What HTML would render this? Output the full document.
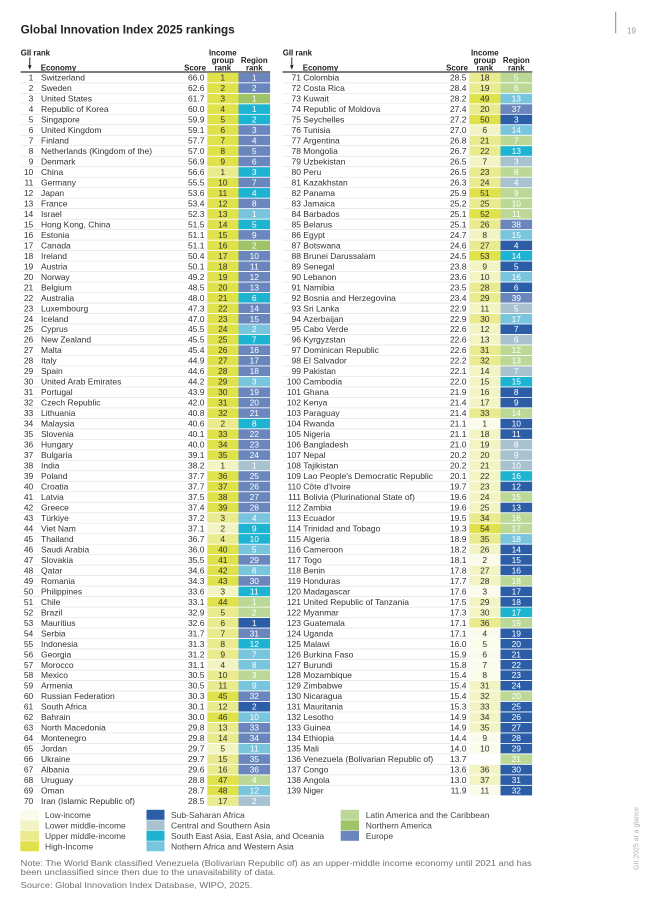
<!DOCTYPE html>
<html><head><meta charset="utf-8"><style>
html,body{margin:0;padding:0;background:#fff}
svg{display:block}
svg text{font-family:"Liberation Sans",Arial,sans-serif;font-size:8.5px;fill:#333}
.r{text-anchor:end}.c{text-anchor:middle}.w{text-anchor:middle;fill:#fff!important}
.b{font-weight:bold;fill:#222!important;font-size:7.9px!important}
.H{fill:#dfe24b}.U{fill:#e9eb8e}.L{fill:#f3f4c4}.W{fill:#fbfbeb}
.F{fill:#2b5ea7}.C{fill:#a9c2cf}.S{fill:#1fb3d2}.M{fill:#79c5dd}.G{fill:#bcd896}.A{fill:#9fc368}.E{fill:#6a86bd}
.lg{fill:#444!important}.nt{fill:#707070!important}
</style></head><body>
<svg width="647" height="905" viewBox="0 0 647 905" xmlns="http://www.w3.org/2000/svg">
<defs>
<rect id="i" x="207.3" y="-4.8" width="31.2" height="9.6"/>
<rect id="g" x="238.5" y="-4.8" width="31.6" height="9.6"/>
<g id="hd">
<text class="b" x="20.7" y="55.5">GII rank</text>
<line x1="29.8" y1="57.5" x2="29.8" y2="66" stroke="#222" stroke-width="1"/>
<polygon points="28,65.3 31.6,65.3 29.8,69.6" fill="#222"/>
<text class="b" x="40.7" y="70.5">Economy</text>
<text class="b r" x="206" y="70.5">Score</text>
<text class="b c" x="222.8" y="55.5">Income</text>
<text class="b c" x="222.8" y="63">group</text>
<text class="b c" x="222.8" y="70.5">rank</text>
<text class="b c" x="254.3" y="63">Region</text>
<text class="b c" x="254.3" y="70.5">rank</text>
<rect x="20.7" y="71.1" width="249.6" height="1.8" fill="#707070"/>
<path d="M20.7 82.84h186.6m-186.6 10.485h186.6m-186.6 10.485h186.6m-186.6 10.485h186.6m-186.6 10.485h186.6m-186.6 10.485h186.6m-186.6 10.485h186.6m-186.6 10.485h186.6m-186.6 10.485h186.6m-186.6 10.485h186.6m-186.6 10.485h186.6m-186.6 10.485h186.6m-186.6 10.485h186.6m-186.6 10.485h186.6m-186.6 10.485h186.6m-186.6 10.485h186.6m-186.6 10.485h186.6m-186.6 10.485h186.6m-186.6 10.485h186.6m-186.6 10.485h186.6m-186.6 10.485h186.6m-186.6 10.485h186.6m-186.6 10.485h186.6m-186.6 10.485h186.6m-186.6 10.485h186.6m-186.6 10.485h186.6m-186.6 10.485h186.6m-186.6 10.485h186.6m-186.6 10.485h186.6m-186.6 10.485h186.6m-186.6 10.485h186.6m-186.6 10.485h186.6m-186.6 10.485h186.6m-186.6 10.485h186.6m-186.6 10.485h186.6m-186.6 10.485h186.6m-186.6 10.485h186.6m-186.6 10.485h186.6m-186.6 10.485h186.6m-186.6 10.485h186.6m-186.6 10.485h186.6m-186.6 10.485h186.6m-186.6 10.485h186.6m-186.6 10.485h186.6m-186.6 10.485h186.6m-186.6 10.485h186.6m-186.6 10.485h186.6m-186.6 10.485h186.6m-186.6 10.485h186.6m-186.6 10.485h186.6m-186.6 10.485h186.6m-186.6 10.485h186.6m-186.6 10.485h186.6m-186.6 10.485h186.6m-186.6 10.485h186.6m-186.6 10.485h186.6m-186.6 10.485h186.6m-186.6 10.485h186.6m-186.6 10.485h186.6m-186.6 10.485h186.6m-186.6 10.485h186.6m-186.6 10.485h186.6m-186.6 10.485h186.6m-186.6 10.485h186.6m-186.6 10.485h186.6m-186.6 10.485h186.6m-186.6 10.485h186.6m-186.6 10.485h186.6" stroke="#e4e4e4" stroke-width="0.7" fill="none"/>
</g>
</defs>
<rect width="647" height="905" fill="#fff"/>
<text x="20.7" y="33.3" style="font-weight:bold;font-size:11.7px;fill:#222" textLength="214" lengthAdjust="spacingAndGlyphs">Global Innovation Index 2025 rankings</text>
<line x1="615.7" y1="11.7" x2="615.7" y2="33.3" stroke="#888" stroke-width="1"/>
<text x="627" y="33.5" style="font-size:8px;fill:#9a9a9a">19</text>
<text transform="translate(638.5,870) rotate(-90)" style="font-size:7.5px;fill:#b0b0b0" textLength="63" lengthAdjust="spacingAndGlyphs">GII 2025 at a glance</text>

<!-- LEFT TABLE -->
<g>
<use href="#hd"/>
<g transform="translate(0,77.6)"><use href="#i" class="H"/><use href="#g" class="E"/><text class="r" x="33.3" y="3">1</text><text x="41" y="3">Switzerland</text><text class="r" x="204.5" y="3">66.0</text><text class="c" x="222.8" y="3">1</text><text class="w" x="254.3" y="3">1</text></g>
<g transform="translate(0,88.1)"><use href="#i" class="H"/><use href="#g" class="E"/><text class="r" x="33.3" y="3">2</text><text x="41" y="3">Sweden</text><text class="r" x="204.5" y="3">62.6</text><text class="c" x="222.8" y="3">2</text><text class="w" x="254.3" y="3">2</text></g>
<g transform="translate(0,98.6)"><use href="#i" class="H"/><use href="#g" class="A"/><text class="r" x="33.3" y="3">3</text><text x="41" y="3">United States</text><text class="r" x="204.5" y="3">61.7</text><text class="c" x="222.8" y="3">3</text><text class="w" x="254.3" y="3">1</text></g>
<g transform="translate(0,109.1)"><use href="#i" class="H"/><use href="#g" class="S"/><text class="r" x="33.3" y="3">4</text><text x="41" y="3">Republic of Korea</text><text class="r" x="204.5" y="3">60.0</text><text class="c" x="222.8" y="3">4</text><text class="w" x="254.3" y="3">1</text></g>
<g transform="translate(0,119.5)"><use href="#i" class="H"/><use href="#g" class="S"/><text class="r" x="33.3" y="3">5</text><text x="41" y="3">Singapore</text><text class="r" x="204.5" y="3">59.9</text><text class="c" x="222.8" y="3">5</text><text class="w" x="254.3" y="3">2</text></g>
<g transform="translate(0,130.0)"><use href="#i" class="H"/><use href="#g" class="E"/><text class="r" x="33.3" y="3">6</text><text x="41" y="3">United Kingdom</text><text class="r" x="204.5" y="3">59.1</text><text class="c" x="222.8" y="3">6</text><text class="w" x="254.3" y="3">3</text></g>
<g transform="translate(0,140.5)"><use href="#i" class="H"/><use href="#g" class="E"/><text class="r" x="33.3" y="3">7</text><text x="41" y="3">Finland</text><text class="r" x="204.5" y="3">57.7</text><text class="c" x="222.8" y="3">7</text><text class="w" x="254.3" y="3">4</text></g>
<g transform="translate(0,151.0)"><use href="#i" class="H"/><use href="#g" class="E"/><text class="r" x="33.3" y="3">8</text><text x="41" y="3">Netherlands (Kingdom of the)</text><text class="r" x="204.5" y="3">57.0</text><text class="c" x="222.8" y="3">8</text><text class="w" x="254.3" y="3">5</text></g>
<g transform="translate(0,161.5)"><use href="#i" class="H"/><use href="#g" class="E"/><text class="r" x="33.3" y="3">9</text><text x="41" y="3">Denmark</text><text class="r" x="204.5" y="3">56.9</text><text class="c" x="222.8" y="3">9</text><text class="w" x="254.3" y="3">6</text></g>
<g transform="translate(0,172.0)"><use href="#i" class="U"/><use href="#g" class="S"/><text class="r" x="33.3" y="3">10</text><text x="41" y="3">China</text><text class="r" x="204.5" y="3">56.6</text><text class="c" x="222.8" y="3">1</text><text class="w" x="254.3" y="3">3</text></g>
<g transform="translate(0,182.5)"><use href="#i" class="H"/><use href="#g" class="E"/><text class="r" x="33.3" y="3">11</text><text x="41" y="3">Germany</text><text class="r" x="204.5" y="3">55.5</text><text class="c" x="222.8" y="3">10</text><text class="w" x="254.3" y="3">7</text></g>
<g transform="translate(0,192.9)"><use href="#i" class="H"/><use href="#g" class="S"/><text class="r" x="33.3" y="3">12</text><text x="41" y="3">Japan</text><text class="r" x="204.5" y="3">53.6</text><text class="c" x="222.8" y="3">11</text><text class="w" x="254.3" y="3">4</text></g>
<g transform="translate(0,203.4)"><use href="#i" class="H"/><use href="#g" class="E"/><text class="r" x="33.3" y="3">13</text><text x="41" y="3">France</text><text class="r" x="204.5" y="3">53.4</text><text class="c" x="222.8" y="3">12</text><text class="w" x="254.3" y="3">8</text></g>
<g transform="translate(0,213.9)"><use href="#i" class="H"/><use href="#g" class="M"/><text class="r" x="33.3" y="3">14</text><text x="41" y="3">Israel</text><text class="r" x="204.5" y="3">52.3</text><text class="c" x="222.8" y="3">13</text><text class="w" x="254.3" y="3">1</text></g>
<g transform="translate(0,224.4)"><use href="#i" class="H"/><use href="#g" class="S"/><text class="r" x="33.3" y="3">15</text><text x="41" y="3">Hong Kong, China</text><text class="r" x="204.5" y="3">51.5</text><text class="c" x="222.8" y="3">14</text><text class="w" x="254.3" y="3">5</text></g>
<g transform="translate(0,234.9)"><use href="#i" class="H"/><use href="#g" class="E"/><text class="r" x="33.3" y="3">16</text><text x="41" y="3">Estonia</text><text class="r" x="204.5" y="3">51.1</text><text class="c" x="222.8" y="3">15</text><text class="w" x="254.3" y="3">9</text></g>
<g transform="translate(0,245.4)"><use href="#i" class="H"/><use href="#g" class="A"/><text class="r" x="33.3" y="3">17</text><text x="41" y="3">Canada</text><text class="r" x="204.5" y="3">51.1</text><text class="c" x="222.8" y="3">16</text><text class="w" x="254.3" y="3">2</text></g>
<g transform="translate(0,255.8)"><use href="#i" class="H"/><use href="#g" class="E"/><text class="r" x="33.3" y="3">18</text><text x="41" y="3">Ireland</text><text class="r" x="204.5" y="3">50.4</text><text class="c" x="222.8" y="3">17</text><text class="w" x="254.3" y="3">10</text></g>
<g transform="translate(0,266.3)"><use href="#i" class="H"/><use href="#g" class="E"/><text class="r" x="33.3" y="3">19</text><text x="41" y="3">Austria</text><text class="r" x="204.5" y="3">50.1</text><text class="c" x="222.8" y="3">18</text><text class="w" x="254.3" y="3">11</text></g>
<g transform="translate(0,276.8)"><use href="#i" class="H"/><use href="#g" class="E"/><text class="r" x="33.3" y="3">20</text><text x="41" y="3">Norway</text><text class="r" x="204.5" y="3">49.2</text><text class="c" x="222.8" y="3">19</text><text class="w" x="254.3" y="3">12</text></g>
<g transform="translate(0,287.3)"><use href="#i" class="H"/><use href="#g" class="E"/><text class="r" x="33.3" y="3">21</text><text x="41" y="3">Belgium</text><text class="r" x="204.5" y="3">48.5</text><text class="c" x="222.8" y="3">20</text><text class="w" x="254.3" y="3">13</text></g>
<g transform="translate(0,297.8)"><use href="#i" class="H"/><use href="#g" class="S"/><text class="r" x="33.3" y="3">22</text><text x="41" y="3">Australia</text><text class="r" x="204.5" y="3">48.0</text><text class="c" x="222.8" y="3">21</text><text class="w" x="254.3" y="3">6</text></g>
<g transform="translate(0,308.3)"><use href="#i" class="H"/><use href="#g" class="E"/><text class="r" x="33.3" y="3">23</text><text x="41" y="3">Luxembourg</text><text class="r" x="204.5" y="3">47.3</text><text class="c" x="222.8" y="3">22</text><text class="w" x="254.3" y="3">14</text></g>
<g transform="translate(0,318.8)"><use href="#i" class="H"/><use href="#g" class="E"/><text class="r" x="33.3" y="3">24</text><text x="41" y="3">Iceland</text><text class="r" x="204.5" y="3">47.0</text><text class="c" x="222.8" y="3">23</text><text class="w" x="254.3" y="3">15</text></g>
<g transform="translate(0,329.2)"><use href="#i" class="H"/><use href="#g" class="M"/><text class="r" x="33.3" y="3">25</text><text x="41" y="3">Cyprus</text><text class="r" x="204.5" y="3">45.5</text><text class="c" x="222.8" y="3">24</text><text class="w" x="254.3" y="3">2</text></g>
<g transform="translate(0,339.7)"><use href="#i" class="H"/><use href="#g" class="S"/><text class="r" x="33.3" y="3">26</text><text x="41" y="3">New Zealand</text><text class="r" x="204.5" y="3">45.5</text><text class="c" x="222.8" y="3">25</text><text class="w" x="254.3" y="3">7</text></g>
<g transform="translate(0,350.2)"><use href="#i" class="H"/><use href="#g" class="E"/><text class="r" x="33.3" y="3">27</text><text x="41" y="3">Malta</text><text class="r" x="204.5" y="3">45.4</text><text class="c" x="222.8" y="3">26</text><text class="w" x="254.3" y="3">16</text></g>
<g transform="translate(0,360.7)"><use href="#i" class="H"/><use href="#g" class="E"/><text class="r" x="33.3" y="3">28</text><text x="41" y="3">Italy</text><text class="r" x="204.5" y="3">44.9</text><text class="c" x="222.8" y="3">27</text><text class="w" x="254.3" y="3">17</text></g>
<g transform="translate(0,371.2)"><use href="#i" class="H"/><use href="#g" class="E"/><text class="r" x="33.3" y="3">29</text><text x="41" y="3">Spain</text><text class="r" x="204.5" y="3">44.6</text><text class="c" x="222.8" y="3">28</text><text class="w" x="254.3" y="3">18</text></g>
<g transform="translate(0,381.7)"><use href="#i" class="H"/><use href="#g" class="M"/><text class="r" x="33.3" y="3">30</text><text x="41" y="3">United Arab Emirates</text><text class="r" x="204.5" y="3">44.2</text><text class="c" x="222.8" y="3">29</text><text class="w" x="254.3" y="3">3</text></g>
<g transform="translate(0,392.2)"><use href="#i" class="H"/><use href="#g" class="E"/><text class="r" x="33.3" y="3">31</text><text x="41" y="3">Portugal</text><text class="r" x="204.5" y="3">43.9</text><text class="c" x="222.8" y="3">30</text><text class="w" x="254.3" y="3">19</text></g>
<g transform="translate(0,402.6)"><use href="#i" class="H"/><use href="#g" class="E"/><text class="r" x="33.3" y="3">32</text><text x="41" y="3">Czech Republic</text><text class="r" x="204.5" y="3">42.0</text><text class="c" x="222.8" y="3">31</text><text class="w" x="254.3" y="3">20</text></g>
<g transform="translate(0,413.1)"><use href="#i" class="H"/><use href="#g" class="E"/><text class="r" x="33.3" y="3">33</text><text x="41" y="3">Lithuania</text><text class="r" x="204.5" y="3">40.8</text><text class="c" x="222.8" y="3">32</text><text class="w" x="254.3" y="3">21</text></g>
<g transform="translate(0,423.6)"><use href="#i" class="U"/><use href="#g" class="S"/><text class="r" x="33.3" y="3">34</text><text x="41" y="3">Malaysia</text><text class="r" x="204.5" y="3">40.6</text><text class="c" x="222.8" y="3">2</text><text class="w" x="254.3" y="3">8</text></g>
<g transform="translate(0,434.1)"><use href="#i" class="H"/><use href="#g" class="E"/><text class="r" x="33.3" y="3">35</text><text x="41" y="3">Slovenia</text><text class="r" x="204.5" y="3">40.1</text><text class="c" x="222.8" y="3">33</text><text class="w" x="254.3" y="3">22</text></g>
<g transform="translate(0,444.6)"><use href="#i" class="H"/><use href="#g" class="E"/><text class="r" x="33.3" y="3">36</text><text x="41" y="3">Hungary</text><text class="r" x="204.5" y="3">40.0</text><text class="c" x="222.8" y="3">34</text><text class="w" x="254.3" y="3">23</text></g>
<g transform="translate(0,455.1)"><use href="#i" class="H"/><use href="#g" class="E"/><text class="r" x="33.3" y="3">37</text><text x="41" y="3">Bulgaria</text><text class="r" x="204.5" y="3">39.1</text><text class="c" x="222.8" y="3">35</text><text class="w" x="254.3" y="3">24</text></g>
<g transform="translate(0,465.5)"><use href="#i" class="L"/><use href="#g" class="C"/><text class="r" x="33.3" y="3">38</text><text x="41" y="3">India</text><text class="r" x="204.5" y="3">38.2</text><text class="c" x="222.8" y="3">1</text><text class="w" x="254.3" y="3">1</text></g>
<g transform="translate(0,476.0)"><use href="#i" class="H"/><use href="#g" class="E"/><text class="r" x="33.3" y="3">39</text><text x="41" y="3">Poland</text><text class="r" x="204.5" y="3">37.7</text><text class="c" x="222.8" y="3">36</text><text class="w" x="254.3" y="3">25</text></g>
<g transform="translate(0,486.5)"><use href="#i" class="H"/><use href="#g" class="E"/><text class="r" x="33.3" y="3">40</text><text x="41" y="3">Croatia</text><text class="r" x="204.5" y="3">37.7</text><text class="c" x="222.8" y="3">37</text><text class="w" x="254.3" y="3">26</text></g>
<g transform="translate(0,497.0)"><use href="#i" class="H"/><use href="#g" class="E"/><text class="r" x="33.3" y="3">41</text><text x="41" y="3">Latvia</text><text class="r" x="204.5" y="3">37.5</text><text class="c" x="222.8" y="3">38</text><text class="w" x="254.3" y="3">27</text></g>
<g transform="translate(0,507.5)"><use href="#i" class="H"/><use href="#g" class="E"/><text class="r" x="33.3" y="3">42</text><text x="41" y="3">Greece</text><text class="r" x="204.5" y="3">37.4</text><text class="c" x="222.8" y="3">39</text><text class="w" x="254.3" y="3">28</text></g>
<g transform="translate(0,518.0)"><use href="#i" class="U"/><use href="#g" class="M"/><text class="r" x="33.3" y="3">43</text><text x="41" y="3">Türkiye</text><text class="r" x="204.5" y="3">37.2</text><text class="c" x="222.8" y="3">3</text><text class="w" x="254.3" y="3">4</text></g>
<g transform="translate(0,528.5)"><use href="#i" class="L"/><use href="#g" class="S"/><text class="r" x="33.3" y="3">44</text><text x="41" y="3">Viet Nam</text><text class="r" x="204.5" y="3">37.1</text><text class="c" x="222.8" y="3">2</text><text class="w" x="254.3" y="3">9</text></g>
<g transform="translate(0,538.9)"><use href="#i" class="U"/><use href="#g" class="S"/><text class="r" x="33.3" y="3">45</text><text x="41" y="3">Thailand</text><text class="r" x="204.5" y="3">36.7</text><text class="c" x="222.8" y="3">4</text><text class="w" x="254.3" y="3">10</text></g>
<g transform="translate(0,549.4)"><use href="#i" class="H"/><use href="#g" class="M"/><text class="r" x="33.3" y="3">46</text><text x="41" y="3">Saudi Arabia</text><text class="r" x="204.5" y="3">36.0</text><text class="c" x="222.8" y="3">40</text><text class="w" x="254.3" y="3">5</text></g>
<g transform="translate(0,559.9)"><use href="#i" class="H"/><use href="#g" class="E"/><text class="r" x="33.3" y="3">47</text><text x="41" y="3">Slovakia</text><text class="r" x="204.5" y="3">35.5</text><text class="c" x="222.8" y="3">41</text><text class="w" x="254.3" y="3">29</text></g>
<g transform="translate(0,570.4)"><use href="#i" class="H"/><use href="#g" class="M"/><text class="r" x="33.3" y="3">48</text><text x="41" y="3">Qatar</text><text class="r" x="204.5" y="3">34.6</text><text class="c" x="222.8" y="3">42</text><text class="w" x="254.3" y="3">6</text></g>
<g transform="translate(0,580.9)"><use href="#i" class="H"/><use href="#g" class="E"/><text class="r" x="33.3" y="3">49</text><text x="41" y="3">Romania</text><text class="r" x="204.5" y="3">34.3</text><text class="c" x="222.8" y="3">43</text><text class="w" x="254.3" y="3">30</text></g>
<g transform="translate(0,591.4)"><use href="#i" class="L"/><use href="#g" class="S"/><text class="r" x="33.3" y="3">50</text><text x="41" y="3">Philippines</text><text class="r" x="204.5" y="3">33.6</text><text class="c" x="222.8" y="3">3</text><text class="w" x="254.3" y="3">11</text></g>
<g transform="translate(0,601.9)"><use href="#i" class="H"/><use href="#g" class="G"/><text class="r" x="33.3" y="3">51</text><text x="41" y="3">Chile</text><text class="r" x="204.5" y="3">33.1</text><text class="c" x="222.8" y="3">44</text><text class="w" x="254.3" y="3">1</text></g>
<g transform="translate(0,612.3)"><use href="#i" class="U"/><use href="#g" class="G"/><text class="r" x="33.3" y="3">52</text><text x="41" y="3">Brazil</text><text class="r" x="204.5" y="3">32.9</text><text class="c" x="222.8" y="3">5</text><text class="w" x="254.3" y="3">2</text></g>
<g transform="translate(0,622.8)"><use href="#i" class="U"/><use href="#g" class="F"/><text class="r" x="33.3" y="3">53</text><text x="41" y="3">Mauritius</text><text class="r" x="204.5" y="3">32.6</text><text class="c" x="222.8" y="3">6</text><text class="w" x="254.3" y="3">1</text></g>
<g transform="translate(0,633.3)"><use href="#i" class="U"/><use href="#g" class="E"/><text class="r" x="33.3" y="3">54</text><text x="41" y="3">Serbia</text><text class="r" x="204.5" y="3">31.7</text><text class="c" x="222.8" y="3">7</text><text class="w" x="254.3" y="3">31</text></g>
<g transform="translate(0,643.8)"><use href="#i" class="U"/><use href="#g" class="S"/><text class="r" x="33.3" y="3">55</text><text x="41" y="3">Indonesia</text><text class="r" x="204.5" y="3">31.3</text><text class="c" x="222.8" y="3">8</text><text class="w" x="254.3" y="3">12</text></g>
<g transform="translate(0,654.3)"><use href="#i" class="U"/><use href="#g" class="M"/><text class="r" x="33.3" y="3">56</text><text x="41" y="3">Georgia</text><text class="r" x="204.5" y="3">31.2</text><text class="c" x="222.8" y="3">9</text><text class="w" x="254.3" y="3">7</text></g>
<g transform="translate(0,664.8)"><use href="#i" class="L"/><use href="#g" class="M"/><text class="r" x="33.3" y="3">57</text><text x="41" y="3">Morocco</text><text class="r" x="204.5" y="3">31.1</text><text class="c" x="222.8" y="3">4</text><text class="w" x="254.3" y="3">8</text></g>
<g transform="translate(0,675.2)"><use href="#i" class="U"/><use href="#g" class="G"/><text class="r" x="33.3" y="3">58</text><text x="41" y="3">Mexico</text><text class="r" x="204.5" y="3">30.5</text><text class="c" x="222.8" y="3">10</text><text class="w" x="254.3" y="3">3</text></g>
<g transform="translate(0,685.7)"><use href="#i" class="U"/><use href="#g" class="M"/><text class="r" x="33.3" y="3">59</text><text x="41" y="3">Armenia</text><text class="r" x="204.5" y="3">30.5</text><text class="c" x="222.8" y="3">11</text><text class="w" x="254.3" y="3">9</text></g>
<g transform="translate(0,696.2)"><use href="#i" class="H"/><use href="#g" class="E"/><text class="r" x="33.3" y="3">60</text><text x="41" y="3">Russian Federation</text><text class="r" x="204.5" y="3">30.3</text><text class="c" x="222.8" y="3">45</text><text class="w" x="254.3" y="3">32</text></g>
<g transform="translate(0,706.7)"><use href="#i" class="U"/><use href="#g" class="F"/><text class="r" x="33.3" y="3">61</text><text x="41" y="3">South Africa</text><text class="r" x="204.5" y="3">30.1</text><text class="c" x="222.8" y="3">12</text><text class="w" x="254.3" y="3">2</text></g>
<g transform="translate(0,717.2)"><use href="#i" class="H"/><use href="#g" class="M"/><text class="r" x="33.3" y="3">62</text><text x="41" y="3">Bahrain</text><text class="r" x="204.5" y="3">30.0</text><text class="c" x="222.8" y="3">46</text><text class="w" x="254.3" y="3">10</text></g>
<g transform="translate(0,727.7)"><use href="#i" class="U"/><use href="#g" class="E"/><text class="r" x="33.3" y="3">63</text><text x="41" y="3">North Macedonia</text><text class="r" x="204.5" y="3">29.8</text><text class="c" x="222.8" y="3">13</text><text class="w" x="254.3" y="3">33</text></g>
<g transform="translate(0,738.2)"><use href="#i" class="U"/><use href="#g" class="E"/><text class="r" x="33.3" y="3">64</text><text x="41" y="3">Montenegro</text><text class="r" x="204.5" y="3">29.8</text><text class="c" x="222.8" y="3">14</text><text class="w" x="254.3" y="3">34</text></g>
<g transform="translate(0,748.6)"><use href="#i" class="L"/><use href="#g" class="M"/><text class="r" x="33.3" y="3">65</text><text x="41" y="3">Jordan</text><text class="r" x="204.5" y="3">29.7</text><text class="c" x="222.8" y="3">5</text><text class="w" x="254.3" y="3">11</text></g>
<g transform="translate(0,759.1)"><use href="#i" class="U"/><use href="#g" class="E"/><text class="r" x="33.3" y="3">66</text><text x="41" y="3">Ukraine</text><text class="r" x="204.5" y="3">29.7</text><text class="c" x="222.8" y="3">15</text><text class="w" x="254.3" y="3">35</text></g>
<g transform="translate(0,769.6)"><use href="#i" class="U"/><use href="#g" class="E"/><text class="r" x="33.3" y="3">67</text><text x="41" y="3">Albania</text><text class="r" x="204.5" y="3">29.6</text><text class="c" x="222.8" y="3">16</text><text class="w" x="254.3" y="3">36</text></g>
<g transform="translate(0,780.1)"><use href="#i" class="H"/><use href="#g" class="G"/><text class="r" x="33.3" y="3">68</text><text x="41" y="3">Uruguay</text><text class="r" x="204.5" y="3">28.8</text><text class="c" x="222.8" y="3">47</text><text class="w" x="254.3" y="3">4</text></g>
<g transform="translate(0,790.6)"><use href="#i" class="H"/><use href="#g" class="M"/><text class="r" x="33.3" y="3">69</text><text x="41" y="3">Oman</text><text class="r" x="204.5" y="3">28.7</text><text class="c" x="222.8" y="3">48</text><text class="w" x="254.3" y="3">12</text></g>
<g transform="translate(0,801.1)"><use href="#i" class="U"/><use href="#g" class="C"/><text class="r" x="33.3" y="3">70</text><text x="41" y="3">Iran (Islamic Republic of)</text><text class="r" x="204.5" y="3">28.5</text><text class="c" x="222.8" y="3">17</text><text class="w" x="254.3" y="3">2</text></g>
</g>

<!-- RIGHT TABLE -->
<g transform="translate(262,0)">
<use href="#hd"/>
<g transform="translate(0,77.6)"><use href="#i" class="U"/><use href="#g" class="G"/><text class="r" x="39" y="3">71</text><text x="41.3" y="3">Colombia</text><text class="r" x="204.5" y="3">28.5</text><text class="c" x="222.8" y="3">18</text><text class="w" x="254.3" y="3">5</text></g>
<g transform="translate(0,88.1)"><use href="#i" class="U"/><use href="#g" class="G"/><text class="r" x="39" y="3">72</text><text x="41.3" y="3">Costa Rica</text><text class="r" x="204.5" y="3">28.4</text><text class="c" x="222.8" y="3">19</text><text class="w" x="254.3" y="3">6</text></g>
<g transform="translate(0,98.6)"><use href="#i" class="H"/><use href="#g" class="M"/><text class="r" x="39" y="3">73</text><text x="41.3" y="3">Kuwait</text><text class="r" x="204.5" y="3">28.2</text><text class="c" x="222.8" y="3">49</text><text class="w" x="254.3" y="3">13</text></g>
<g transform="translate(0,109.1)"><use href="#i" class="U"/><use href="#g" class="E"/><text class="r" x="39" y="3">74</text><text x="41.3" y="3">Republic of Moldova</text><text class="r" x="204.5" y="3">27.4</text><text class="c" x="222.8" y="3">20</text><text class="w" x="254.3" y="3">37</text></g>
<g transform="translate(0,119.5)"><use href="#i" class="H"/><use href="#g" class="F"/><text class="r" x="39" y="3">75</text><text x="41.3" y="3">Seychelles</text><text class="r" x="204.5" y="3">27.2</text><text class="c" x="222.8" y="3">50</text><text class="w" x="254.3" y="3">3</text></g>
<g transform="translate(0,130.0)"><use href="#i" class="L"/><use href="#g" class="M"/><text class="r" x="39" y="3">76</text><text x="41.3" y="3">Tunisia</text><text class="r" x="204.5" y="3">27.0</text><text class="c" x="222.8" y="3">6</text><text class="w" x="254.3" y="3">14</text></g>
<g transform="translate(0,140.5)"><use href="#i" class="U"/><use href="#g" class="G"/><text class="r" x="39" y="3">77</text><text x="41.3" y="3">Argentina</text><text class="r" x="204.5" y="3">26.8</text><text class="c" x="222.8" y="3">21</text><text class="w" x="254.3" y="3">7</text></g>
<g transform="translate(0,151.0)"><use href="#i" class="U"/><use href="#g" class="S"/><text class="r" x="39" y="3">78</text><text x="41.3" y="3">Mongolia</text><text class="r" x="204.5" y="3">26.7</text><text class="c" x="222.8" y="3">22</text><text class="w" x="254.3" y="3">13</text></g>
<g transform="translate(0,161.5)"><use href="#i" class="L"/><use href="#g" class="C"/><text class="r" x="39" y="3">79</text><text x="41.3" y="3">Uzbekistan</text><text class="r" x="204.5" y="3">26.5</text><text class="c" x="222.8" y="3">7</text><text class="w" x="254.3" y="3">3</text></g>
<g transform="translate(0,172.0)"><use href="#i" class="U"/><use href="#g" class="G"/><text class="r" x="39" y="3">80</text><text x="41.3" y="3">Peru</text><text class="r" x="204.5" y="3">26.5</text><text class="c" x="222.8" y="3">23</text><text class="w" x="254.3" y="3">8</text></g>
<g transform="translate(0,182.5)"><use href="#i" class="U"/><use href="#g" class="C"/><text class="r" x="39" y="3">81</text><text x="41.3" y="3">Kazakhstan</text><text class="r" x="204.5" y="3">26.3</text><text class="c" x="222.8" y="3">24</text><text class="w" x="254.3" y="3">4</text></g>
<g transform="translate(0,192.9)"><use href="#i" class="H"/><use href="#g" class="G"/><text class="r" x="39" y="3">82</text><text x="41.3" y="3">Panama</text><text class="r" x="204.5" y="3">25.9</text><text class="c" x="222.8" y="3">51</text><text class="w" x="254.3" y="3">9</text></g>
<g transform="translate(0,203.4)"><use href="#i" class="U"/><use href="#g" class="G"/><text class="r" x="39" y="3">83</text><text x="41.3" y="3">Jamaica</text><text class="r" x="204.5" y="3">25.2</text><text class="c" x="222.8" y="3">25</text><text class="w" x="254.3" y="3">10</text></g>
<g transform="translate(0,213.9)"><use href="#i" class="H"/><use href="#g" class="G"/><text class="r" x="39" y="3">84</text><text x="41.3" y="3">Barbados</text><text class="r" x="204.5" y="3">25.1</text><text class="c" x="222.8" y="3">52</text><text class="w" x="254.3" y="3">11</text></g>
<g transform="translate(0,224.4)"><use href="#i" class="U"/><use href="#g" class="E"/><text class="r" x="39" y="3">85</text><text x="41.3" y="3">Belarus</text><text class="r" x="204.5" y="3">25.1</text><text class="c" x="222.8" y="3">26</text><text class="w" x="254.3" y="3">38</text></g>
<g transform="translate(0,234.9)"><use href="#i" class="L"/><use href="#g" class="M"/><text class="r" x="39" y="3">86</text><text x="41.3" y="3">Egypt</text><text class="r" x="204.5" y="3">24.7</text><text class="c" x="222.8" y="3">8</text><text class="w" x="254.3" y="3">15</text></g>
<g transform="translate(0,245.4)"><use href="#i" class="U"/><use href="#g" class="F"/><text class="r" x="39" y="3">87</text><text x="41.3" y="3">Botswana</text><text class="r" x="204.5" y="3">24.6</text><text class="c" x="222.8" y="3">27</text><text class="w" x="254.3" y="3">4</text></g>
<g transform="translate(0,255.8)"><use href="#i" class="H"/><use href="#g" class="S"/><text class="r" x="39" y="3">88</text><text x="41.3" y="3">Brunei Darussalam</text><text class="r" x="204.5" y="3">24.5</text><text class="c" x="222.8" y="3">53</text><text class="w" x="254.3" y="3">14</text></g>
<g transform="translate(0,266.3)"><use href="#i" class="L"/><use href="#g" class="F"/><text class="r" x="39" y="3">89</text><text x="41.3" y="3">Senegal</text><text class="r" x="204.5" y="3">23.8</text><text class="c" x="222.8" y="3">9</text><text class="w" x="254.3" y="3">5</text></g>
<g transform="translate(0,276.8)"><use href="#i" class="L"/><use href="#g" class="M"/><text class="r" x="39" y="3">90</text><text x="41.3" y="3">Lebanon</text><text class="r" x="204.5" y="3">23.6</text><text class="c" x="222.8" y="3">10</text><text class="w" x="254.3" y="3">16</text></g>
<g transform="translate(0,287.3)"><use href="#i" class="U"/><use href="#g" class="F"/><text class="r" x="39" y="3">91</text><text x="41.3" y="3">Namibia</text><text class="r" x="204.5" y="3">23.5</text><text class="c" x="222.8" y="3">28</text><text class="w" x="254.3" y="3">6</text></g>
<g transform="translate(0,297.8)"><use href="#i" class="U"/><use href="#g" class="E"/><text class="r" x="39" y="3">92</text><text x="41.3" y="3">Bosnia and Herzegovina</text><text class="r" x="204.5" y="3">23.4</text><text class="c" x="222.8" y="3">29</text><text class="w" x="254.3" y="3">39</text></g>
<g transform="translate(0,308.3)"><use href="#i" class="L"/><use href="#g" class="C"/><text class="r" x="39" y="3">93</text><text x="41.3" y="3">Sri Lanka</text><text class="r" x="204.5" y="3">22.9</text><text class="c" x="222.8" y="3">11</text><text class="w" x="254.3" y="3">5</text></g>
<g transform="translate(0,318.8)"><use href="#i" class="U"/><use href="#g" class="M"/><text class="r" x="39" y="3">94</text><text x="41.3" y="3">Azerbaijan</text><text class="r" x="204.5" y="3">22.9</text><text class="c" x="222.8" y="3">30</text><text class="w" x="254.3" y="3">17</text></g>
<g transform="translate(0,329.2)"><use href="#i" class="L"/><use href="#g" class="F"/><text class="r" x="39" y="3">95</text><text x="41.3" y="3">Cabo Verde</text><text class="r" x="204.5" y="3">22.6</text><text class="c" x="222.8" y="3">12</text><text class="w" x="254.3" y="3">7</text></g>
<g transform="translate(0,339.7)"><use href="#i" class="L"/><use href="#g" class="C"/><text class="r" x="39" y="3">96</text><text x="41.3" y="3">Kyrgyzstan</text><text class="r" x="204.5" y="3">22.6</text><text class="c" x="222.8" y="3">13</text><text class="w" x="254.3" y="3">6</text></g>
<g transform="translate(0,350.2)"><use href="#i" class="U"/><use href="#g" class="G"/><text class="r" x="39" y="3">97</text><text x="41.3" y="3">Dominican Republic</text><text class="r" x="204.5" y="3">22.6</text><text class="c" x="222.8" y="3">31</text><text class="w" x="254.3" y="3">12</text></g>
<g transform="translate(0,360.7)"><use href="#i" class="U"/><use href="#g" class="G"/><text class="r" x="39" y="3">98</text><text x="41.3" y="3">El Salvador</text><text class="r" x="204.5" y="3">22.2</text><text class="c" x="222.8" y="3">32</text><text class="w" x="254.3" y="3">13</text></g>
<g transform="translate(0,371.2)"><use href="#i" class="L"/><use href="#g" class="C"/><text class="r" x="39" y="3">99</text><text x="41.3" y="3">Pakistan</text><text class="r" x="204.5" y="3">22.1</text><text class="c" x="222.8" y="3">14</text><text class="w" x="254.3" y="3">7</text></g>
<g transform="translate(0,381.7)"><use href="#i" class="L"/><use href="#g" class="S"/><text class="r" x="39" y="3">100</text><text x="41.3" y="3">Cambodia</text><text class="r" x="204.5" y="3">22.0</text><text class="c" x="222.8" y="3">15</text><text class="w" x="254.3" y="3">15</text></g>
<g transform="translate(0,392.2)"><use href="#i" class="L"/><use href="#g" class="F"/><text class="r" x="39" y="3">101</text><text x="41.3" y="3">Ghana</text><text class="r" x="204.5" y="3">21.9</text><text class="c" x="222.8" y="3">16</text><text class="w" x="254.3" y="3">8</text></g>
<g transform="translate(0,402.6)"><use href="#i" class="L"/><use href="#g" class="F"/><text class="r" x="39" y="3">102</text><text x="41.3" y="3">Kenya</text><text class="r" x="204.5" y="3">21.4</text><text class="c" x="222.8" y="3">17</text><text class="w" x="254.3" y="3">9</text></g>
<g transform="translate(0,413.1)"><use href="#i" class="U"/><use href="#g" class="G"/><text class="r" x="39" y="3">103</text><text x="41.3" y="3">Paraguay</text><text class="r" x="204.5" y="3">21.4</text><text class="c" x="222.8" y="3">33</text><text class="w" x="254.3" y="3">14</text></g>
<g transform="translate(0,423.6)"><use href="#i" class="W"/><use href="#g" class="F"/><text class="r" x="39" y="3">104</text><text x="41.3" y="3">Rwanda</text><text class="r" x="204.5" y="3">21.1</text><text class="c" x="222.8" y="3">1</text><text class="w" x="254.3" y="3">10</text></g>
<g transform="translate(0,434.1)"><use href="#i" class="L"/><use href="#g" class="F"/><text class="r" x="39" y="3">105</text><text x="41.3" y="3">Nigeria</text><text class="r" x="204.5" y="3">21.1</text><text class="c" x="222.8" y="3">18</text><text class="w" x="254.3" y="3">11</text></g>
<g transform="translate(0,444.6)"><use href="#i" class="L"/><use href="#g" class="C"/><text class="r" x="39" y="3">106</text><text x="41.3" y="3">Bangladesh</text><text class="r" x="204.5" y="3">21.0</text><text class="c" x="222.8" y="3">19</text><text class="w" x="254.3" y="3">8</text></g>
<g transform="translate(0,455.1)"><use href="#i" class="L"/><use href="#g" class="C"/><text class="r" x="39" y="3">107</text><text x="41.3" y="3">Nepal</text><text class="r" x="204.5" y="3">20.2</text><text class="c" x="222.8" y="3">20</text><text class="w" x="254.3" y="3">9</text></g>
<g transform="translate(0,465.5)"><use href="#i" class="L"/><use href="#g" class="C"/><text class="r" x="39" y="3">108</text><text x="41.3" y="3">Tajikistan</text><text class="r" x="204.5" y="3">20.2</text><text class="c" x="222.8" y="3">21</text><text class="w" x="254.3" y="3">10</text></g>
<g transform="translate(0,476.0)"><use href="#i" class="L"/><use href="#g" class="S"/><text class="r" x="39" y="3">109</text><text x="41.3" y="3">Lao People's Democratic Republic</text><text class="r" x="204.5" y="3">20.1</text><text class="c" x="222.8" y="3">22</text><text class="w" x="254.3" y="3">16</text></g>
<g transform="translate(0,486.5)"><use href="#i" class="L"/><use href="#g" class="F"/><text class="r" x="39" y="3">110</text><text x="41.3" y="3">Côte d'Ivoire</text><text class="r" x="204.5" y="3">19.7</text><text class="c" x="222.8" y="3">23</text><text class="w" x="254.3" y="3">12</text></g>
<g transform="translate(0,497.0)"><use href="#i" class="L"/><use href="#g" class="G"/><text class="r" x="39" y="3">111</text><text x="41.3" y="3">Bolivia (Plurinational State of)</text><text class="r" x="204.5" y="3">19.6</text><text class="c" x="222.8" y="3">24</text><text class="w" x="254.3" y="3">15</text></g>
<g transform="translate(0,507.5)"><use href="#i" class="L"/><use href="#g" class="F"/><text class="r" x="39" y="3">112</text><text x="41.3" y="3">Zambia</text><text class="r" x="204.5" y="3">19.6</text><text class="c" x="222.8" y="3">25</text><text class="w" x="254.3" y="3">13</text></g>
<g transform="translate(0,518.0)"><use href="#i" class="U"/><use href="#g" class="G"/><text class="r" x="39" y="3">113</text><text x="41.3" y="3">Ecuador</text><text class="r" x="204.5" y="3">19.5</text><text class="c" x="222.8" y="3">34</text><text class="w" x="254.3" y="3">16</text></g>
<g transform="translate(0,528.5)"><use href="#i" class="H"/><use href="#g" class="G"/><text class="r" x="39" y="3">114</text><text x="41.3" y="3">Trinidad and Tobago</text><text class="r" x="204.5" y="3">19.3</text><text class="c" x="222.8" y="3">54</text><text class="w" x="254.3" y="3">17</text></g>
<g transform="translate(0,538.9)"><use href="#i" class="U"/><use href="#g" class="M"/><text class="r" x="39" y="3">115</text><text x="41.3" y="3">Algeria</text><text class="r" x="204.5" y="3">18.9</text><text class="c" x="222.8" y="3">35</text><text class="w" x="254.3" y="3">18</text></g>
<g transform="translate(0,549.4)"><use href="#i" class="L"/><use href="#g" class="F"/><text class="r" x="39" y="3">116</text><text x="41.3" y="3">Cameroon</text><text class="r" x="204.5" y="3">18.2</text><text class="c" x="222.8" y="3">26</text><text class="w" x="254.3" y="3">14</text></g>
<g transform="translate(0,559.9)"><use href="#i" class="W"/><use href="#g" class="F"/><text class="r" x="39" y="3">117</text><text x="41.3" y="3">Togo</text><text class="r" x="204.5" y="3">18.1</text><text class="c" x="222.8" y="3">2</text><text class="w" x="254.3" y="3">15</text></g>
<g transform="translate(0,570.4)"><use href="#i" class="L"/><use href="#g" class="F"/><text class="r" x="39" y="3">118</text><text x="41.3" y="3">Benin</text><text class="r" x="204.5" y="3">17.8</text><text class="c" x="222.8" y="3">27</text><text class="w" x="254.3" y="3">16</text></g>
<g transform="translate(0,580.9)"><use href="#i" class="L"/><use href="#g" class="G"/><text class="r" x="39" y="3">119</text><text x="41.3" y="3">Honduras</text><text class="r" x="204.5" y="3">17.7</text><text class="c" x="222.8" y="3">28</text><text class="w" x="254.3" y="3">18</text></g>
<g transform="translate(0,591.4)"><use href="#i" class="W"/><use href="#g" class="F"/><text class="r" x="39" y="3">120</text><text x="41.3" y="3">Madagascar</text><text class="r" x="204.5" y="3">17.6</text><text class="c" x="222.8" y="3">3</text><text class="w" x="254.3" y="3">17</text></g>
<g transform="translate(0,601.9)"><use href="#i" class="L"/><use href="#g" class="F"/><text class="r" x="39" y="3">121</text><text x="41.3" y="3">United Republic of Tanzania</text><text class="r" x="204.5" y="3">17.5</text><text class="c" x="222.8" y="3">29</text><text class="w" x="254.3" y="3">18</text></g>
<g transform="translate(0,612.3)"><use href="#i" class="L"/><use href="#g" class="S"/><text class="r" x="39" y="3">122</text><text x="41.3" y="3">Myanmar</text><text class="r" x="204.5" y="3">17.3</text><text class="c" x="222.8" y="3">30</text><text class="w" x="254.3" y="3">17</text></g>
<g transform="translate(0,622.8)"><use href="#i" class="U"/><use href="#g" class="G"/><text class="r" x="39" y="3">123</text><text x="41.3" y="3">Guatemala</text><text class="r" x="204.5" y="3">17.1</text><text class="c" x="222.8" y="3">36</text><text class="w" x="254.3" y="3">19</text></g>
<g transform="translate(0,633.3)"><use href="#i" class="W"/><use href="#g" class="F"/><text class="r" x="39" y="3">124</text><text x="41.3" y="3">Uganda</text><text class="r" x="204.5" y="3">17.1</text><text class="c" x="222.8" y="3">4</text><text class="w" x="254.3" y="3">19</text></g>
<g transform="translate(0,643.8)"><use href="#i" class="W"/><use href="#g" class="F"/><text class="r" x="39" y="3">125</text><text x="41.3" y="3">Malawi</text><text class="r" x="204.5" y="3">16.0</text><text class="c" x="222.8" y="3">5</text><text class="w" x="254.3" y="3">20</text></g>
<g transform="translate(0,654.3)"><use href="#i" class="W"/><use href="#g" class="F"/><text class="r" x="39" y="3">126</text><text x="41.3" y="3">Burkina Faso</text><text class="r" x="204.5" y="3">15.9</text><text class="c" x="222.8" y="3">6</text><text class="w" x="254.3" y="3">21</text></g>
<g transform="translate(0,664.8)"><use href="#i" class="W"/><use href="#g" class="F"/><text class="r" x="39" y="3">127</text><text x="41.3" y="3">Burundi</text><text class="r" x="204.5" y="3">15.8</text><text class="c" x="222.8" y="3">7</text><text class="w" x="254.3" y="3">22</text></g>
<g transform="translate(0,675.2)"><use href="#i" class="W"/><use href="#g" class="F"/><text class="r" x="39" y="3">128</text><text x="41.3" y="3">Mozambique</text><text class="r" x="204.5" y="3">15.4</text><text class="c" x="222.8" y="3">8</text><text class="w" x="254.3" y="3">23</text></g>
<g transform="translate(0,685.7)"><use href="#i" class="L"/><use href="#g" class="F"/><text class="r" x="39" y="3">129</text><text x="41.3" y="3">Zimbabwe</text><text class="r" x="204.5" y="3">15.4</text><text class="c" x="222.8" y="3">31</text><text class="w" x="254.3" y="3">24</text></g>
<g transform="translate(0,696.2)"><use href="#i" class="L"/><use href="#g" class="G"/><text class="r" x="39" y="3">130</text><text x="41.3" y="3">Nicaragua</text><text class="r" x="204.5" y="3">15.4</text><text class="c" x="222.8" y="3">32</text><text class="w" x="254.3" y="3">20</text></g>
<g transform="translate(0,706.7)"><use href="#i" class="L"/><use href="#g" class="F"/><text class="r" x="39" y="3">131</text><text x="41.3" y="3">Mauritania</text><text class="r" x="204.5" y="3">15.3</text><text class="c" x="222.8" y="3">33</text><text class="w" x="254.3" y="3">25</text></g>
<g transform="translate(0,717.2)"><use href="#i" class="L"/><use href="#g" class="F"/><text class="r" x="39" y="3">132</text><text x="41.3" y="3">Lesotho</text><text class="r" x="204.5" y="3">14.9</text><text class="c" x="222.8" y="3">34</text><text class="w" x="254.3" y="3">26</text></g>
<g transform="translate(0,727.7)"><use href="#i" class="L"/><use href="#g" class="F"/><text class="r" x="39" y="3">133</text><text x="41.3" y="3">Guinea</text><text class="r" x="204.5" y="3">14.9</text><text class="c" x="222.8" y="3">35</text><text class="w" x="254.3" y="3">27</text></g>
<g transform="translate(0,738.2)"><use href="#i" class="W"/><use href="#g" class="F"/><text class="r" x="39" y="3">134</text><text x="41.3" y="3">Ethiopia</text><text class="r" x="204.5" y="3">14.4</text><text class="c" x="222.8" y="3">9</text><text class="w" x="254.3" y="3">28</text></g>
<g transform="translate(0,748.6)"><use href="#i" class="W"/><use href="#g" class="F"/><text class="r" x="39" y="3">135</text><text x="41.3" y="3">Mali</text><text class="r" x="204.5" y="3">14.0</text><text class="c" x="222.8" y="3">10</text><text class="w" x="254.3" y="3">29</text></g>
<g transform="translate(0,759.1)"><use href="#g" class="G"/><text class="r" x="39" y="3">136</text><text x="41.3" y="3">Venezuela (Bolivarian Republic of)</text><text class="r" x="204.5" y="3">13.7</text><text class="w" x="254.3" y="3">21</text></g>
<g transform="translate(0,769.6)"><use href="#i" class="L"/><use href="#g" class="F"/><text class="r" x="39" y="3">137</text><text x="41.3" y="3">Congo</text><text class="r" x="204.5" y="3">13.6</text><text class="c" x="222.8" y="3">36</text><text class="w" x="254.3" y="3">30</text></g>
<g transform="translate(0,780.1)"><use href="#i" class="L"/><use href="#g" class="F"/><text class="r" x="39" y="3">138</text><text x="41.3" y="3">Angola</text><text class="r" x="204.5" y="3">13.0</text><text class="c" x="222.8" y="3">37</text><text class="w" x="254.3" y="3">31</text></g>
<g transform="translate(0,790.6)"><use href="#i" class="W"/><use href="#g" class="F"/><text class="r" x="39" y="3">139</text><text x="41.3" y="3">Niger</text><text class="r" x="204.5" y="3">11.9</text><text class="c" x="222.8" y="3">11</text><text class="w" x="254.3" y="3">32</text></g>
</g>

<!-- LEGEND -->
<rect class="W" x="20.3" y="809.8" width="18.7" height="10"/>
<rect class="L" x="20.3" y="820.3" width="18.7" height="10"/>
<rect class="U" x="20.3" y="830.8" width="18.7" height="10"/>
<rect class="H" x="20.3" y="841.3" width="18.7" height="10"/>
<text class="lg" x="45" y="818">Low-income</text>
<text class="lg" x="45" y="828.5">Lower middle-income</text>
<text class="lg" x="45" y="839">Upper middle-income</text>
<text class="lg" x="45" y="849.5">High-Income</text>
<rect class="F" x="146.5" y="809.8" width="18" height="10"/>
<rect class="C" x="146.5" y="820.3" width="18" height="10"/>
<rect class="S" x="146.5" y="830.8" width="18" height="10"/>
<rect class="M" x="146.5" y="841.3" width="18" height="10"/>
<text class="lg" x="171" y="818">Sub-Saharan Africa</text>
<text class="lg" x="171" y="828.5">Central and Southern Asia</text>
<text class="lg" x="171" y="839">South East Asia, East Asia, and Oceania</text>
<text class="lg" x="171" y="849.5">Nothern Africa and Western Asia</text>
<rect class="G" x="340.7" y="809.8" width="18.3" height="10"/>
<rect class="A" x="340.7" y="820.3" width="18.3" height="10"/>
<rect class="E" x="340.7" y="830.8" width="18.3" height="10"/>
<text class="lg" x="365.7" y="818">Latin America and the Caribbean</text>
<text class="lg" x="365.7" y="828.5">Northern America</text>
<text class="lg" x="365.7" y="839">Europe</text>

<text class="nt" x="20.7" y="865.8" textLength="511" lengthAdjust="spacingAndGlyphs">Note: The World Bank classified Venezuela (Bolivarian Republic of) as an upper-middle income economy until 2021 and has</text>
<text class="nt" x="20.7" y="874.8" textLength="255" lengthAdjust="spacingAndGlyphs">been unclassified since then due to the unavailability of data.</text>
<text class="nt" x="20.7" y="888" textLength="231.6" lengthAdjust="spacingAndGlyphs">Source: Global Innovation Index Database, WIPO, 2025.</text>
</svg>
</body></html>
